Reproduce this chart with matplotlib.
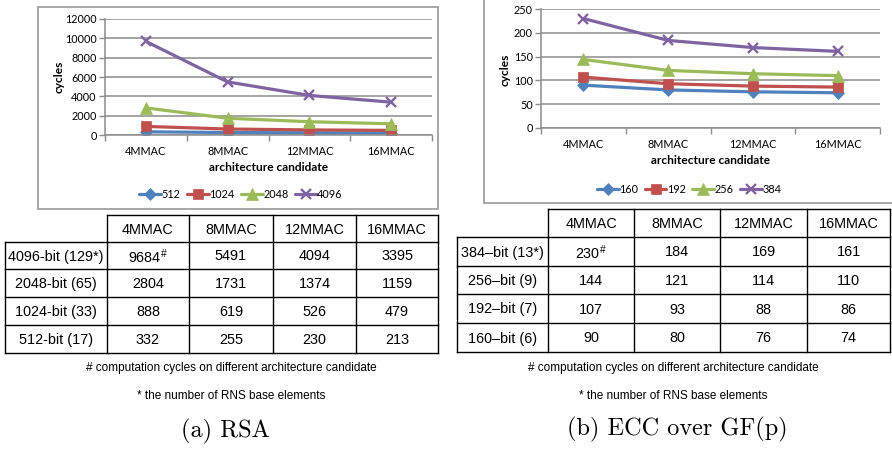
import matplotlib
matplotlib.use("Agg")
import matplotlib.pyplot as plt
from matplotlib.patches import Rectangle

plt.rcParams['mathtext.fontset'] = 'custom'
plt.rcParams['mathtext.rm'] = 'Liberation Sans'
plt.rcParams['mathtext.default'] = 'regular'

W, H = 892, 449

candidates = ['4MMAC', '8MMAC', '12MMAC', '16MMAC']

# RSA cycles per key size
rsa_series = ['512', '1024', '2048', '4096']
rsa_512 = [332, 255, 230, 213]
rsa_1024 = [888, 619, 526, 479]
rsa_2048 = [2804, 1731, 1374, 1159]
rsa_4096 = [9684, 5491, 4094, 3395]
rsa_rows = ['4096-bit (129*)', '2048-bit (65)', '1024-bit (33)', '512-bit (17)']

# ECC over GF(p) cycles per curve size
ecc_series = ['160', '192', '256', '384']
ecc_160 = [90, 80, 76, 74]
ecc_192 = [107, 93, 88, 86]
ecc_256 = [144, 121, 114, 110]
ecc_384 = [230, 184, 169, 161]
ecc_rows = ['384\u2013bit (13*)', '256\u2013bit (9)', '192\u2013bit (7)', '160\u2013bit (6)']

colors = ['#4F81BD', '#C0504D', '#9BBB59', '#8064A2']
markers = ['D', 's', '^', 'x']
msizes = [6.5, 7.5, 8, 7.5]

chart_font = 'Lato'
table_font = 'Liberation Sans'
grid_gray = '#8C8C8C'


def px_axes(fig, x0, y0, x1, y1):
    return fig.add_axes([x0 / W, 1 - y1 / H, (x1 - x0) / W, (y1 - y0) / H])


def line_chart(ax, series, names, ymax, ystep, label_xy, xlab_y, leg_xy):
    x = range(len(candidates))
    for vals, name, c, m, ms in zip(series, names, colors, markers, msizes):
        ax.plot(x, vals, color=c, lw=2.3, marker=m, ms=ms, mfc=c, mec=c,
                mew=1.7 if m == 'x' else 0.5, label=name, solid_capstyle='round')
    ax.set_xlim(-0.5, len(candidates) - 0.5)
    ax.set_ylim(0, ymax)
    ax.set_yticks(range(0, ymax + 1, ystep))
    ax.set_xticks(list(x))
    ax.set_xticklabels(candidates)
    ax.set_xticks([i + 0.5 for i in range(-1, len(candidates))], minor=True)
    ax.yaxis.grid(True, color=grid_gray, lw=1.1)
    ax.set_axisbelow(True)
    for s in ['top', 'right']:
        ax.spines[s].set_visible(False)
    for s in ['left', 'bottom']:
        ax.spines[s].set_color(grid_gray)
        ax.spines[s].set_linewidth(1.1)
    ax.tick_params(axis='y', length=4, color=grid_gray, width=1.0, pad=2)
    ax.tick_params(axis='x', which='major', length=0, pad=8)
    ax.tick_params(axis='x', which='minor', length=4, color=grid_gray, width=1.0)
    for t in ax.get_xticklabels() + ax.get_yticklabels():
        t.set_fontfamily(chart_font)
        t.set_fontsize(7.8)
    ax.set_facecolor('none')
    ax.set_ylabel('cycles', fontfamily=chart_font, fontsize=8.6, fontweight='bold')
    ax.yaxis.set_label_coords(*label_xy)
    ax.yaxis.label.set_va('center')
    ax.set_xlabel('architecture candidate', fontfamily=chart_font, fontsize=8.6,
                  fontweight='bold')
    ax.xaxis.set_label_coords(0.5, xlab_y)
    ax.xaxis.label.set_va('center')
    ax.legend(loc='center', bbox_to_anchor=leg_xy, ncol=4, frameon=False,
              prop={'family': chart_font, 'size': 7.8}, handlelength=2.0,
              handletextpad=0.05, columnspacing=0.6, borderaxespad=0)


def draw_table(ov, xe, ye, rows, values):
    lw = 1.0
    ov.plot([xe[1], xe[-1]], [ye[0], ye[0]], color='black', lw=lw)
    for y in ye[1:]:
        ov.plot([xe[0], xe[-1]], [y, y], color='black', lw=lw)
    ov.plot([xe[0], xe[0]], [ye[1], ye[-1]], color='black', lw=lw)
    for x in xe[1:]:
        ov.plot([x, x], [ye[0], ye[-1]], color='black', lw=lw)
    kw = dict(ha='center', va='center', fontfamily=table_font, fontsize=10.4)
    for j, name in enumerate(candidates):
        ov.text((xe[j + 1] + xe[j + 2]) / 2, (ye[0] + ye[1]) / 2 + 1, name, **kw)
    for i, (label, vals) in enumerate(zip(rows, values)):
        yc = (ye[i + 1] + ye[i + 2]) / 2 + 1
        ov.text((xe[0] + xe[1]) / 2, yc, label, **kw)
        for j, v in enumerate(vals):
            s = str(v)
            if i == 0 and j == 0:
                s += r'$^{\#}$'
            ov.text((xe[j + 1] + xe[j + 2]) / 2, yc, s, **kw)


fig = plt.figure(figsize=(W / 100, H / 100), dpi=100)
ov = fig.add_axes([0, 0, 1, 1], zorder=0)
ov.set_xlim(0, W)
ov.set_ylim(H, 0)
ov.axis('off')

# chart frames
ov.add_patch(Rectangle((38, 7), 400, 202, fill=False, ec='#A0A0A0', lw=1.3))
ov.add_patch(Rectangle((484, -10), 420, 213, fill=False, ec='#A0A0A0', lw=1.3))

ax1 = px_axes(fig, 105, 19, 432, 135)
line_chart(ax1, [rsa_512, rsa_1024, rsa_2048, rsa_4096], rsa_series, 12000, 2000,
           (-0.141, 0.5), -0.276, (0.416, -0.509))

ax2 = px_axes(fig, 541, 9, 880, 128)
line_chart(ax2, [ecc_160, ecc_192, ecc_256, ecc_384], ecc_series, 250, 50,
           (-0.106, 0.49), -0.277, (0.437, -0.513))

draw_table(ov, [5, 107, 189, 273, 356, 438], [215, 242, 269, 297, 325, 353],
           rsa_rows, [rsa_4096, rsa_2048, rsa_1024, rsa_512])
draw_table(ov, [457, 548, 634, 720, 807, 890], [209, 237, 266, 294, 323, 352],
           ecc_rows, [ecc_384, ecc_256, ecc_192, ecc_160])

note_kw = dict(ha='center', va='center', fontfamily=table_font, fontsize=8.5)
for xc in (231, 673):
    ov.text(xc, 368, '# computation cycles on different architecture candidate', **note_kw)
    ov.text(xc, 396, '* the number of RNS base elements', **note_kw)

cap_kw = dict(ha='center', va='center', fontfamily='cmr10', fontsize=17.5)
ov.text(225, 431, '(a) RSA', **cap_kw)
ov.text(677, 429, '(b) ECC over GF(p)', **cap_kw)

fig.savefig('out.png', dpi=100)
